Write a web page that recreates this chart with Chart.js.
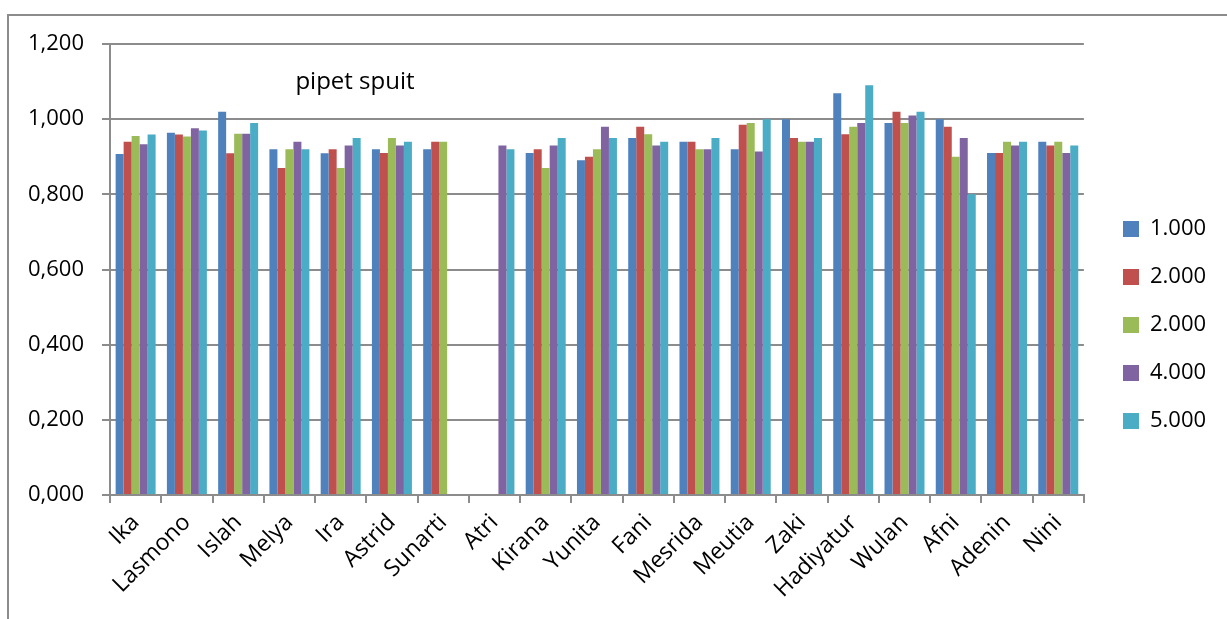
<!DOCTYPE html>
<html>
<head>
<meta charset="utf-8">
<script src="https://cdn.jsdelivr.net/npm/chart.js@4"></script>
<style>
  html, body { margin: 0; padding: 0; background: #ffffff; }
  #wrap { position: relative; width: 1227px; height: 619px; overflow: hidden; }
  #frame { position: absolute; left: 7px; top: 14px; width: 1240px; height: 640px;
           border-top: 2px solid #8c8c8c; border-left: 2px solid #8c8c8c; box-sizing: border-box; }
  #c { position: absolute; left: 0; top: 0; }
</style>
</head>
<body>
<div id="wrap">
  <div id="frame"></div>
  <canvas id="c" width="1227" height="619"></canvas>
</div>
<script>
// Participants (x categories)
const names = ["Ika", "Lasmono", "Islah", "Melya", "Ira", "Astrid", "Sunarti", "Atri", "Kirana",
  "Yunita", "Fani", "Mesrida", "Meutia", "Zaki", "Hadiyatur", "Wulan", "Afni", "Adenin", "Nini"];

// Series labels as shown in the legend
const seriesLabels = ["1.000", "2.000", "2.000", "4.000", "5.000"];

// Measured volumes per series (null = no measurement)
const vol1 = [0.907, 0.964, 1.020, 0.920, 0.909, 0.920, 0.920, null, 0.910, 0.891,
  0.950, 0.940, 0.920, 1.000, 1.069, 0.990, 1.000, 0.910, 0.940];
const vol2 = [0.940, 0.959, 0.909, 0.870, 0.920, 0.910, 0.940, null, 0.920, 0.900,
  0.980, 0.940, 0.985, 0.950, 0.960, 1.020, 0.980, 0.910, 0.930];
const vol3 = [0.955, 0.954, 0.961, 0.920, 0.870, 0.950, 0.940, null, 0.870, 0.920,
  0.960, 0.920, 0.990, 0.940, 0.980, 0.990, 0.900, 0.940, 0.940];
const vol4 = [0.933, 0.976, 0.961, 0.940, 0.930, 0.930, null, 0.930, 0.930, 0.980,
  0.930, 0.920, 0.914, 0.940, 0.990, 1.010, 0.950, 0.930, 0.910];
const vol5 = [0.959, 0.970, 0.990, 0.920, 0.950, 0.940, null, 0.920, 0.950, 0.950,
  0.940, 0.950, 1.000, 0.950, 1.090, 1.020, 0.800, 0.940, 0.930];

// Y axis ticks
const yTicks = [0, 0.2, 0.4, 0.6, 0.8, 1.0, 1.2];

const colors = ["#4F81BD", "#C0504D", "#9BBB59", "#8064A2", "#4BACC6"];
const seriesValues = [vol1, vol2, vol3, vol4, vol5];

const FONT = "'Open Sans', sans-serif";
const lineGrey = "#8c8c8c";

// Chart caption drawn inside the plot area
const captionPlugin = {
  id: "caption",
  afterDraw(chart) {
    const ctx = chart.ctx;
    ctx.save();
    ctx.font = "24px " + FONT;
    ctx.fillStyle = "#000";
    ctx.textAlign = "center";
    ctx.textBaseline = "alphabetic";
    ctx.fillText("pipet spuit", 355, 89);
    ctx.restore();
  }
};

// Place the legend block to the right of the plot
const legendPlacePlugin = {
  id: "legendPlace",
  afterLayout(chart) {
    const lg = chart.legend;
    if (!lg) return;
    const w = lg.right - lg.left;
    lg.left = 1097;
    lg.right = 1097 + w;
    lg.top = 27;
    lg.bottom = 623;
  }
};

new Chart(document.getElementById("c"), {
  type: "bar",
  data: {
    labels: names,
    datasets: seriesValues.map((vals, i) => ({
      label: seriesLabels[i],
      data: vals,
      backgroundColor: colors[i],
      borderWidth: 0,
      categoryPercentage: 0.78,
      barPercentage: 1.0
    }))
  },
  options: {
    responsive: false,
    animation: false,
    layout: { padding: { left: 0, top: 44, right: 24, bottom: 0 } },
    plugins: {
      title: { display: false },
      tooltip: { enabled: false },
      legend: {
        position: "right",
        align: "center",
        labels: {
          font: { family: FONT, size: 22 },
          color: "#000",
          boxWidth: 16,
          boxHeight: 16,
          padding: 26
        }
      }
    },
    scales: {
      x: {
        offset: true,
        grid: {
          offset: true,
          drawOnChartArea: false,
          drawTicks: true,
          tickLength: 8,
          color: lineGrey,
          lineWidth: 2
        },
        border: { color: lineGrey, width: 2 },
        ticks: {
          font: { family: FONT, size: 23 },
          color: "#000",
          minRotation: 45,
          maxRotation: 45,
          padding: 6,
          autoSkip: false
        },
        afterFit(scale) { scale.height = 124; }
      },
      y: {
        min: 0,
        max: 1.2,
        afterBuildTicks(scale) { scale.ticks = yTicks.map(v => ({ value: v })); },
        grid: {
          color: lineGrey,
          lineWidth: 2,
          drawTicks: true,
          tickLength: 8
        },
        border: { color: lineGrey, width: 2 },
        ticks: {
          font: { family: FONT, size: 22 },
          color: "#000",
          padding: 18,
          callback: v => Number(v).toFixed(3).replace(".", ",")
        },
        afterFit(scale) { scale.width = 110; }
      }
    }
  },
  plugins: [captionPlugin, legendPlacePlugin]
});
</script>
</body>
</html>
